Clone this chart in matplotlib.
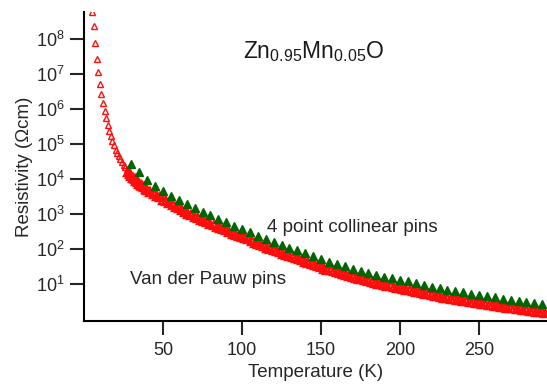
import matplotlib
matplotlib.use("Agg")
import matplotlib.pyplot as plt
import numpy as np

plt.rcParams['font.family'] = ['Liberation Sans', 'DejaVu Sans']
plt.rcParams['mathtext.fontset'] = 'custom'
plt.rcParams['mathtext.rm'] = 'Liberation Sans'
plt.rcParams['mathtext.it'] = 'Liberation Sans:italic'

# Van der Pauw pins: temperature (K) and log10 resistivity (Ohm cm)
vdp_T = [5, 6, 7, 8, 9, 10, 11, 12, 13, 14, 15, 16, 17, 18, 19, 20, 21, 22, 23, 24,
         25, 26, 27, 28, 29, 30, 31, 32, 33, 34, 35, 36, 37, 38, 39, 40,
         42, 44, 46, 48, 50, 52, 54, 56, 58, 60, 62, 64, 66, 68, 70, 72, 74, 76, 78, 80,
         82, 84, 86, 88, 90, 92, 94, 96, 98, 100, 102, 104, 106, 108, 110, 112, 114, 116,
         118, 120, 122, 124, 126, 128, 130, 132, 134, 136, 138, 140, 142, 144, 146, 148,
         150, 152, 154, 156, 158, 160, 162, 164, 166, 168, 170, 172, 174, 176, 178, 180,
         182, 184, 186, 188, 190, 192, 194, 196, 198, 200, 202, 204, 206, 208, 210, 212,
         214, 216, 218, 220, 222, 224, 226, 228, 230, 232, 234, 236, 238, 240, 242, 244,
         246, 248, 250, 252, 254, 256, 258, 260, 262, 264, 266, 268, 270, 272, 274, 276,
         278, 280, 282, 284, 286, 288, 290, 292]
vdp_logR = [8.77, 8.39, 7.90, 7.45, 7.06, 6.72, 6.44, 6.17, 5.95, 5.75, 5.56, 5.39, 5.24,
            5.10, 4.97, 4.85, 4.75, 4.66, 4.57, 4.49, 4.41, 4.34, 4.27, 4.21, 4.15, 4.10,
            4.05, 4.00, 3.96, 3.92, 3.88, 3.84, 3.80, 3.77, 3.73, 3.70,
            3.64, 3.59, 3.53, 3.48, 3.42, 3.37, 3.32, 3.27, 3.22, 3.17, 3.12, 3.07, 3.02,
            2.97, 2.93, 2.89, 2.85, 2.81, 2.77, 2.73, 2.69, 2.65, 2.61, 2.58, 2.54, 2.50,
            2.45, 2.41, 2.38, 2.34, 2.31, 2.28, 2.24, 2.19, 2.15, 2.11, 2.08, 2.04, 2.01,
            1.97, 1.94, 1.91, 1.87, 1.84, 1.81, 1.78, 1.75, 1.71, 1.68, 1.64, 1.61, 1.58,
            1.55, 1.51, 1.48, 1.45, 1.42, 1.40, 1.37, 1.34, 1.31, 1.28, 1.26, 1.23, 1.21,
            1.19, 1.16, 1.14, 1.11, 1.09, 1.07, 1.04, 1.02, 1.00, 0.98, 0.96, 0.94, 0.92,
            0.90, 0.88, 0.86, 0.85, 0.83, 0.81, 0.79, 0.77, 0.75, 0.73, 0.71, 0.69, 0.67,
            0.66, 0.64, 0.62, 0.61, 0.59, 0.58, 0.56, 0.55, 0.53, 0.51, 0.50, 0.48, 0.47,
            0.46, 0.44, 0.43, 0.41, 0.40, 0.39, 0.37, 0.36, 0.34, 0.33, 0.32, 0.31, 0.29,
            0.28, 0.27, 0.26, 0.25, 0.24, 0.22, 0.21, 0.20, 0.19]

# 4 point collinear pins
col_T = [30, 35, 40, 45, 50, 55, 60, 65, 70, 75, 80, 85, 90, 95, 100, 105, 110, 115,
         120, 125, 130, 135, 140, 145, 150, 155, 160, 165, 170, 175, 180, 185, 190, 195,
         200, 205, 210, 215, 220, 225, 230, 235, 240, 245, 250, 255, 260, 265, 270, 275,
         280, 285, 290]
col_logR = [4.44, 4.20, 3.99, 3.82, 3.66, 3.53, 3.41, 3.28, 3.17, 3.07, 2.97, 2.87, 2.78,
            2.67, 2.58, 2.50, 2.39, 2.30, 2.21, 2.13, 2.05, 1.97, 1.88, 1.80, 1.72, 1.65,
            1.58, 1.51, 1.45, 1.39, 1.33, 1.27, 1.22, 1.17, 1.12, 1.08, 1.03, 0.98, 0.93,
            0.89, 0.85, 0.81, 0.77, 0.73, 0.70, 0.66, 0.63, 0.59, 0.56, 0.53, 0.50, 0.47,
            0.44]

x_ticks = [50, 100, 150, 200, 250]
y_ticks = [1e1, 1e2, 1e3, 1e4, 1e5, 1e6, 1e7, 1e8]
y_ticklabels = [r'$10^{%d}$' % k for k in range(1, 9)]

fig = plt.figure(figsize=(5.47, 3.89), dpi=100)
ax = fig.add_axes([0.1536, 0.1748, 0.8464, 0.7942])

# low-T part drawn as separate open triangles, the dense rest as a thick band
split = 24
ax.semilogy(vdp_T[:split], 10 ** np.array(vdp_logR[:split]), linestyle='none',
            marker='^', ms=5, mfc='none', mec='#ff1010', mew=1.0)
ax.semilogy(vdp_T[split - 1:], 10 ** np.array(vdp_logR[split - 1:]), linestyle='none',
            marker='^', ms=6, mfc='none', mec='#ff0d0d', mew=1.7)
ax.semilogy(col_T, 10 ** np.array(col_logR), linestyle='none', marker='^',
            ms=5.5, color='#006400', mec='#006400')

ax.set_xlim(0, 293)
ax.set_ylim(10 ** -0.05, 10 ** 8.78)

ax.set_xticks(x_ticks)
ax.set_yticks(y_ticks)
ax.set_yticklabels(y_ticklabels)
ax.minorticks_off()

for side in ['top', 'right']:
    ax.spines[side].set_visible(False)
for side in ['left', 'bottom']:
    ax.spines[side].set_linewidth(1.5)
ax.tick_params(direction='out', length=10, width=1.5, labelsize=13,
               colors='#262626', pad=5)
ax.tick_params(axis='y', pad=4)

ax.set_xlabel('Temperature (K)', fontsize=13.5, color='#262626', labelpad=4)
ax.set_ylabel('Resistivity (Ωcm)', fontsize=13.5, color='#262626', labelpad=2)

ax.text(100.6, 10 ** 7.47, r'$\mathregular{Zn_{0.95}Mn_{0.05}O}$', fontsize=16.5,
        color='#1a1a1a', ha='left', va='baseline')
ax.text(116, 10 ** 2.63, '4 point collinear pins', fontsize=13.5, color='#262626',
        ha='left', va='center')
ax.text(29, 10 ** 1.15, 'Van der Pauw pins', fontsize=13.5, color='#262626',
        ha='left', va='center')

fig.savefig('out.png', dpi=100)
